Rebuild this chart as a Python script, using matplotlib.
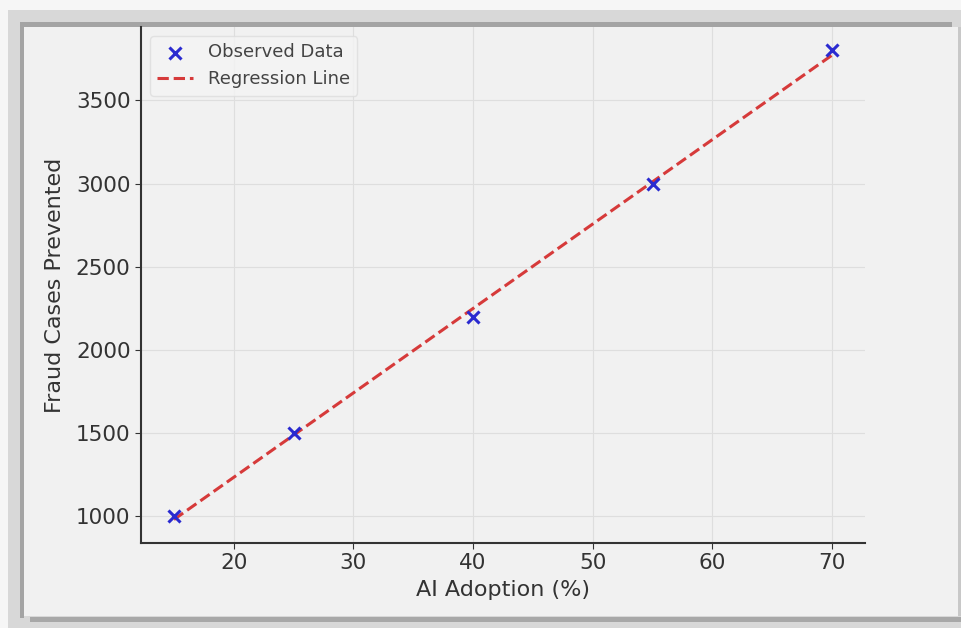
import numpy as np
import matplotlib.pyplot as plt
from matplotlib.patches import Rectangle

# Dati
ai_adoption = np.array([15, 25, 40, 55, 70])
fraud_prevented = np.array([1000, 1500, 2200, 3000, 3800])
x_ticks = [20, 30, 40, 50, 60, 70]
y_ticks = [1000, 1500, 2000, 2500, 3000, 3500]

# Retta di regressione (minimi quadrati)
slope, intercept = np.polyfit(ai_adoption, fraud_prevented, 1)
fit_line = slope * ai_adoption + intercept

W, H = 961, 628
fig = plt.figure(figsize=(W / 100, H / 100), dpi=100, facecolor="#f6f6f6")


def px_rect(x0, y0, x1, y1, color, z):
    # rettangolo in pixel (origine in alto a sinistra)
    fig.patches.append(Rectangle((x0 / W, 1 - y1 / H), (x1 - x0) / W, (y1 - y0) / H,
                                 transform=fig.transFigure, facecolor=color,
                                 edgecolor="none", zorder=z))


# Cornice stile screenshot con ombra
px_rect(8, 10, 961, 628, "#d8d8d8", -5)
px_rect(20, 22, 952, 27, "#a4a4a4", -4)
px_rect(20, 22, 24, 618, "#a4a4a4", -4)
px_rect(30, 617, 961, 622, "#a8a8a8", -4)
px_rect(24, 27, 961, 616, "#f1f1f1", -3)
px_rect(958, 27, 961, 616, "#c8c8c8", -2)

ax = fig.add_axes([141 / W, 85 / H, 724 / W, 516 / H])
ax.set_facecolor("#f1f1f1")

ax.scatter(ai_adoption, fraud_prevented, marker="x", color="#2a2ad0", s=75,
           linewidths=2.2, label="Observed Data", zorder=3)
ax.plot(ai_adoption, fit_line, "--", color="#d63a3a", linewidth=2.2,
        label="Regression Line", zorder=2)

ax.set_xticks(x_ticks)
ax.set_yticks(y_ticks)
ax.set_xlabel("AI Adoption (%)", fontsize=16, color="#333333", labelpad=5)
ax.set_ylabel("Fraud Cases Prevented", fontsize=16, color="#333333", labelpad=8)
ax.tick_params(labelsize=15.5, colors="#333333", length=4)

ax.grid(True, color="#dedede", linewidth=0.8)
ax.set_axisbelow(True)
for side in ["top", "right"]:
    ax.spines[side].set_visible(False)
for side in ["left", "bottom"]:
    ax.spines[side].set_color("#333333")
    ax.spines[side].set_linewidth(1.5)

leg = ax.legend(loc="upper left", fontsize=13, frameon=True, facecolor="#f4f4f4",
                edgecolor="#dddddd", borderaxespad=0.5)
for txt in leg.get_texts():
    txt.set_color("#444444")

fig.savefig("out.png", dpi=100, facecolor=fig.get_facecolor())
